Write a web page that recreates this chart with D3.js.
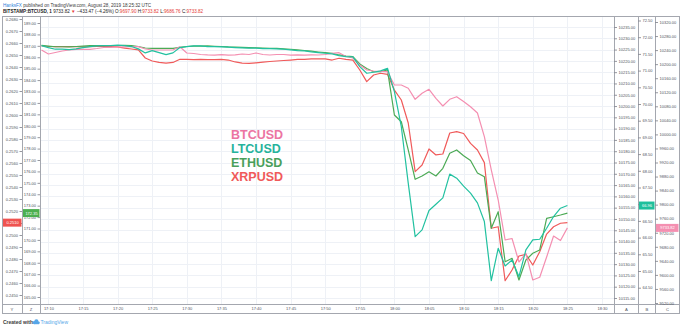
<!DOCTYPE html>
<html>
<head>
<meta charset="utf-8">
<script src="https://cdn.jsdelivr.net/npm/d3@7"></script>
<style>
  html, body { margin: 0; padding: 0; background: #fff; }
  svg { display: block; font-family: "Liberation Sans", Arial, sans-serif; }
</style>
</head>
<body>
<svg id="chart" width="680" height="328"></svg>
<script>
// 1-minute closes, 17:09 -> 18:25
const startTime = new Date(2019, 7, 28, 17, 9);

const btcusd = [
  10240.3, 10228.9, 10233.2, 10237.4, 10240.3, 10242.3, 10242.3, 10242.3, 10244.6, 10247.4,
  10248.0, 10248.8, 10249.4, 10249.7, 10249.7, 10243.1, 10240.3, 10240.3, 10240.3, 10240.3,
  10249.7, 10231.8, 10230.3, 10227.5, 10226.4, 10225.8, 10226.9, 10225.5, 10226.2, 10228.9,
  10227.5, 10231.8, 10227.5, 10226.0, 10227.5, 10227.5, 10225.7, 10226.3, 10225.9, 10226.6,
  10226.0, 10227.5, 10230.9, 10232.6, 10221.8, 10217.5, 10197.6, 10183.4, 10180.5, 10179.1,
  10178.5, 10140.6, 10140.6, 10131.3, 10099.9, 10117.0, 10128.4, 10102.8, 10080.9, 10099.9,
  10107.3, 10093.7, 10078.9, 10060.9, 9993.5, 9898.7, 9813.2, 9699.4, 9703.6, 9636.7,
  9661.5, 9585.5, 9593.2, 9651.0, 9710.7, 9697.9, 9733.82
];

const ltcusd = [
  71.75, 71.69, 71.64, 71.64, 71.63, 71.65, 71.69, 71.72, 71.74, 71.75,
  71.75, 71.76, 71.75, 71.72, 71.65, 71.53, 71.60, 71.54, 71.48, 71.53,
  71.69, 71.72, 71.74, 71.74, 71.72, 71.72, 71.71, 71.70, 71.69, 71.68,
  71.67, 71.67, 71.66, 71.66, 71.65, 71.64, 71.62, 71.60, 71.59, 71.56,
  71.54, 71.52, 71.50, 71.45, 71.42, 71.41, 71.12, 70.92, 70.95, 70.99,
  71.07, 70.37, 69.32, 67.63, 66.03, 66.23, 66.81, 67.00, 67.19, 67.90,
  67.78, 67.54, 67.33, 67.04, 66.48, 64.71, 65.68, 65.15, 65.33, 64.83,
  65.63, 65.93, 65.95, 66.28, 66.63, 66.88, 66.96
];

const ethusd = [
  187.05, 186.98, 186.92, 186.92, 186.91, 186.94, 186.98, 187.01, 187.01, 187.02,
  187.03, 187.03, 187.04, 187.01, 186.94, 186.81, 186.78, 186.79, 186.77, 186.78,
  186.87, 186.94, 186.98, 186.98, 186.99, 186.96, 186.94, 186.91, 186.90, 186.87,
  186.85, 186.83, 186.81, 186.78, 186.77, 186.74, 186.70, 186.65, 186.59, 186.53,
  186.46, 186.40, 186.35, 186.20, 186.11, 186.05, 185.41, 185.01, 184.73, 184.74,
  184.88, 180.94, 180.35, 177.88, 175.31, 175.60, 175.97, 175.60, 176.27, 177.59,
  177.88, 177.37, 176.96, 175.86, 175.54, 171.02, 172.47, 168.09, 168.39, 166.49,
  168.24, 168.83, 169.12, 171.89, 172.03, 172.18, 172.35
];

const xrpusd = [
  0.26575, 0.26571, 0.26569, 0.26569, 0.26570, 0.26569, 0.26568, 0.26569, 0.26571, 0.26571,
  0.26569, 0.26567, 0.26558, 0.26550, 0.26542, 0.26475, 0.26450, 0.26438, 0.26433, 0.26438,
  0.26464, 0.26463, 0.26461, 0.26463, 0.26462, 0.26461, 0.26463, 0.26458, 0.26442, 0.26433,
  0.26431, 0.26435, 0.26440, 0.26446, 0.26450, 0.26454, 0.26458, 0.26463, 0.26464, 0.26467,
  0.26468, 0.26467, 0.26458, 0.26473, 0.26464, 0.26458, 0.26375, 0.26278, 0.26333, 0.26348,
  0.26339, 0.26208, 0.26125, 0.25933, 0.25528, 0.25583, 0.25717, 0.25667, 0.25675, 0.25850,
  0.25861, 0.25846, 0.25763, 0.25708, 0.25603, 0.25056, 0.25069, 0.24619, 0.24708, 0.24825,
  0.24839, 0.24750, 0.24861, 0.25008, 0.25069, 0.25098, 0.25103
];

const legendNames = ["BTCUSD", "LTCUSD", "ETHUSD", "XRPUSD"];
const scaleNames = ["Y", "Z", "A", "B", "C"];

const xrpTicks = d3.range(245, 269).map((v) => v / 1000);
const ethTicks = d3.range(165, 190);
const aTicks = d3.range(10115, 10236, 5);
const ltcTicks = d3.range(129, 146).map((v) => v / 2);
const btcTicks = d3.range(9520, 10321, 40);
const timeTicks = d3.timeMinute.every(5).range(new Date(2019, 7, 28, 17, 10), new Date(2019, 7, 28, 18, 31));

const headerLine1 = [
  ["HanksFX", "#2f7fd8", 400],
  [" published on TradingView.com, August 28, 2019 18:25:32 UTC", "#3a3a3a", 400]
];
const headerLine2 = [
  ["BITSTAMP:BTCUSD, 1", "#222", 700],
  ["  9733.82 ", "#222", 400],
  ["▼", "#e53935", 400],
  [" −433.47 (−4.26%) O:", "#222", 400],
  ["9697.90", "#e53935", 400],
  [" H:", "#222", 400],
  ["9733.82", "#e53935", 400],
  [" L:", "#222", 400],
  ["9686.76", "#e53935", 400],
  [" C:", "#222", 400],
  ["9733.82", "#e53935", 400]
];

const svg = d3.select("#chart");
const frameTop = 16, plotBottom = 304, axisBottom = 314;
const plotLeft = 40, plotRight = 614;
const frameColor = "#a4a7af";
const gridColor = "#eef1f6";
const labelColor = "#50535e";

svg.append("rect").attr("width", 680).attr("height", 328).attr("fill", "#fff");

const x = d3.scaleTime()
  .domain([new Date(2019, 7, 28, 17, 15), new Date(2019, 7, 28, 18, 30)])
  .range([83, 602]);

const yXrp = d3.scaleLinear().domain([0.245, 0.268]).range([295, 19]);
const yEth = d3.scaleLinear().domain([165, 189]).range([297, 23]);
const yA = d3.scaleLinear().domain([10115, 10235]).range([298, 27]);
const yLtc = d3.scaleLinear().domain([64.5, 72.5]).range([287.7, 20.5]);
const yBtc = d3.scaleLinear().domain([9520, 10320]).range([303, 22]);

const times = btcusd.map((_, i) => d3.timeMinute.offset(startTime, i));

// grid
svg.append("g")
  .selectAll("line")
  .data(aTicks)
  .join("line")
  .attr("x1", plotLeft).attr("x2", plotRight)
  .attr("y1", (d) => Math.round(yA(d)) + 0.5).attr("y2", (d) => Math.round(yA(d)) + 0.5)
  .attr("stroke", gridColor);

svg.append("g")
  .selectAll("line")
  .data(timeTicks)
  .join("line")
  .attr("x1", (d) => Math.round(x(d)) + 0.5).attr("x2", (d) => Math.round(x(d)) + 0.5)
  .attr("y1", frameTop).attr("y2", plotBottom)
  .attr("stroke", gridColor);

// series
const series = [
  { name: "BTCUSD", values: btcusd, y: yBtc, line: "#f48fb1", text: "#ec75a2", box: [655, 679], fmt: ".2f", boxFill: "#f48fb1" },
  { name: "LTCUSD", values: ltcusd, y: yLtc, line: "#22c1a0", text: "#26b39c", box: [638, 655], fmt: ".2f", boxFill: "#1fbf9c" },
  { name: "ETHUSD", values: ethusd, y: yEth, line: "#4caa55", text: "#4a9f5a", box: [22, 40], fmt: ".2f", boxFill: "#4caf50" },
  { name: "XRPUSD", values: xrpusd, y: yXrp, line: "#f05a5a", text: "#f05a5a", box: [2, 22], fmt: ".4f", boxFill: "#ef5350" }
];

svg.append("clipPath").attr("id", "plot")
  .append("rect").attr("x", plotLeft).attr("y", frameTop).attr("width", plotRight - plotLeft).attr("height", plotBottom - frameTop);

const plot = svg.append("g").attr("clip-path", "url(#plot)");

[series[3], series[2], series[0], series[1]].forEach((s) => {
  const line = d3.line()
    .x((d, i) => x(times[i]))
    .y((d) => s.y(d));
  plot.append("path")
    .datum(s.values)
    .attr("d", line)
    .attr("fill", "none")
    .attr("stroke", s.line)
    .attr("stroke-width", 1.2)
    .attr("stroke-linejoin", "round");
});

// legend in the middle
svg.append("g")
  .selectAll("text")
  .data(legendNames)
  .join("text")
  .attr("x", 231)
  .attr("y", (d, i) => 139 + i * 14)
  .attr("font-size", 12.5)
  .attr("font-weight", 700)
  .attr("fill", (d) => series.find((s) => s.name === d).text)
  .text((d) => d);

// frame
const frame = svg.append("g").attr("stroke", frameColor).attr("fill", "none");
frame.append("rect").attr("x", 2.5).attr("y", frameTop + 0.5).attr("width", 677).attr("height", axisBottom - frameTop - 1);
frame.append("line").attr("x1", 2).attr("x2", 680).attr("y1", plotBottom + 0.5).attr("y2", plotBottom + 0.5);
[22, 40, 614, 638, 655].forEach((px) => {
  frame.append("line").attr("x1", px + 0.5).attr("x2", px + 0.5).attr("y1", frameTop).attr("y2", axisBottom);
});

// axes
const styleAxis = (g) => {
  g.attr("font-size", 4).attr("font-family", "'Liberation Sans', Arial, sans-serif");
  g.select(".domain").remove();
  g.selectAll("line").attr("stroke", labelColor).attr("stroke-width", 0.6);
  g.selectAll("text").attr("fill", labelColor);
};

const drawAxis = (axis, px) =>
  svg.append("g").attr("transform", `translate(${px},0)`).call(axis).call(styleAxis);

drawAxis(d3.axisLeft(yXrp).tickValues(xrpTicks).tickFormat(d3.format(".4f")).tickSize(2.5).tickPadding(1.5), 22);
drawAxis(d3.axisLeft(yEth).tickValues(ethTicks).tickFormat(d3.format(".2f")).tickSize(2.5).tickPadding(1.5), 40);
drawAxis(d3.axisRight(yA).tickValues(aTicks).tickFormat(d3.format(".2f")).tickSize(2.5).tickPadding(1.5), 614.5);
drawAxis(d3.axisRight(yLtc).tickValues(ltcTicks).tickFormat(d3.format(".2f")).tickSize(2.5).tickPadding(1.5), 638.5);
drawAxis(d3.axisRight(yBtc).tickValues(btcTicks).tickFormat(d3.format(".2f")).tickSize(2.5).tickPadding(1.5), 655.5);

svg.append("g")
  .attr("transform", `translate(0,${plotBottom})`)
  .call(d3.axisBottom(x).tickValues(timeTicks).tickFormat(d3.timeFormat("%H:%M")).tickSize(0).tickPadding(3.2))
  .call(styleAxis);

// scale buttons under the price axes
const buttonCenters = [12, 31, 626.5, 647, 667.5];
svg.append("g")
  .selectAll("text")
  .data(scaleNames)
  .join("text")
  .attr("x", (d, i) => buttonCenters[i])
  .attr("y", 310.5)
  .attr("text-anchor", "middle")
  .attr("font-size", 4.2)
  .attr("fill", labelColor)
  .text((d) => d);

// last price labels
series.forEach((s) => {
  const last = s.values[s.values.length - 1];
  const cy = s.y(last);
  const [x0, x1] = s.box;
  const g = svg.append("g");
  g.append("rect")
    .attr("x", x0 + 1).attr("y", cy - 4)
    .attr("width", x1 - x0 - 1.5).attr("height", 8)
    .attr("fill", s.boxFill);
  g.append("text")
    .attr("x", (x0 + x1) / 2 + 0.5).attr("y", cy + 1.5)
    .attr("text-anchor", "middle")
    .attr("font-size", 4)
    .attr("fill", "#fff")
    .text(d3.format(s.fmt)(last));
});

// header
const header = (parts, y) => {
  const t = svg.append("text").attr("x", 3).attr("y", y).attr("font-size", 4.6);
  parts.forEach(([str, color, weight]) => {
    t.append("tspan").attr("fill", color).attr("font-weight", weight).text(str);
  });
};
header(headerLine1, 7);
header(headerLine2, 13);

// footer
svg.append("text")
  .attr("x", 3).attr("y", 324)
  .attr("font-size", 5)
  .attr("font-weight", 700)
  .attr("fill", "#3a3a3a")
  .text("Created with");

const logo = svg.append("g").attr("fill", "#56a6e8");
[[34.2, 322.6, 1.6], [36.4, 321.4, 2.1], [38.4, 322.8, 1.4]].forEach(([cx, cy, r]) => {
  logo.append("circle").attr("cx", cx).attr("cy", cy).attr("r", r);
});
logo.append("rect").attr("x", 34.2).attr("y", 322.4).attr("width", 4.2).attr("height", 1.8);

svg.append("text")
  .attr("x", 40.5).attr("y", 324)
  .attr("font-size", 5)
  .attr("font-weight", 400)
  .attr("fill", "#56a6e8")
  .text("TradingView");
</script>
</body>
</html>
